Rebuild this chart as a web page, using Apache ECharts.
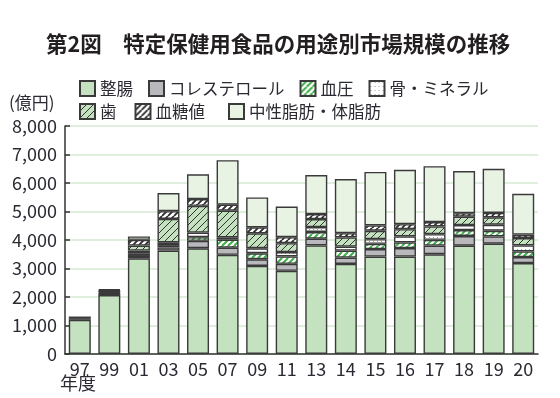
<!DOCTYPE html>
<html>
<head>
<meta charset="utf-8">
<script src="https://cdn.jsdelivr.net/npm/echarts@6/dist/echarts.min.js"></script>
<style>
  html, body { margin: 0; padding: 0; background: #fff; }
  #chart { width: 560px; height: 398px; }
</style>
</head>
<body>
<div id="chart"></div>
<script>
// 年度
const years = ["97", "99", "01", "03", "05", "07", "09", "11", "13", "14", "15", "16", "17", "18", "19", "20"];
const yTicks = [0, 1000, 2000, 3000, 4000, 5000, 6000, 7000, 8000];

// 用途別市場規模（億円）
const seichou = [1200, 2070, 3360, 3630, 3710, 3480, 3090, 2920, 3810, 3160, 3420, 3420, 3500, 3800, 3870, 3190];
const cholesterol = [0, 20, 80, 110, 260, 250, 235, 245, 235, 225, 260, 295, 305, 340, 255, 210];
const ketsuatsu = [0, 50, 95, 80, 130, 280, 210, 260, 235, 245, 185, 200, 200, 210, 200, 200];
const hone = [50, 30, 95, 100, 160, 80, 175, 150, 175, 140, 165, 210, 200, 175, 210, 210];
const ha = [15, 50, 175, 820, 940, 940, 525, 315, 280, 320, 295, 255, 270, 295, 260, 260];
const kettouchi = [0, 20, 200, 270, 235, 210, 210, 210, 175, 150, 185, 175, 155, 120, 155, 120];
const chuusei = [50, 30, 120, 640, 870, 1560, 1050, 1075, 1370, 1900, 1880, 1910, 1960, 1480, 1550, 1430];

const FONT = '"Noto Sans CJK JP", "Noto Sans", sans-serif';
const TEXT = "#2a2a33";
const EDGE = "#3a3a3a";

function hatch(bg, line, width, gap) {
  const c = document.createElement("canvas");
  c.width = gap;
  c.height = gap;
  const g = c.getContext("2d");
  g.fillStyle = bg;
  g.fillRect(0, 0, gap, gap);
  g.strokeStyle = line;
  g.lineWidth = width;
  g.beginPath();
  // "/" 方向の斜線（タイル境界でつながるように3本）
  for (let k = -1; k <= 1; k++) {
    g.moveTo(k * gap, gap);
    g.lineTo(k * gap + gap, 0);
  }
  g.stroke();
  return { image: c, repeat: "repeat" };
}

function dots() {
  const c = document.createElement("canvas");
  c.width = 4;
  c.height = 4;
  const g = c.getContext("2d");
  g.fillStyle = "#ffffff";
  g.fillRect(0, 0, 4, 4);
  g.fillStyle = "#9a9a9a";
  g.fillRect(1, 1, 1, 1);
  return { image: c, repeat: "repeat" };
}

const seriesDefs = [
  { name: "整腸", data: seichou, color: "#c4e2bf" },
  { name: "コレステロール", data: cholesterol, color: "#b9b9bd" },
  { name: "血圧", data: ketsuatsu, color: hatch("#ffffff", "#3fae49", 2, 6) },
  { name: "骨・ミネラル", data: hone, color: dots() },
  { name: "歯", data: ha, color: hatch("#c4e2bf", "#333333", 1, 7) },
  { name: "血糖値", data: kettouchi, color: hatch("#ffffff", "#2a2a2a", 1.8, 6) },
  { name: "中性脂肪・体脂肪", data: chuusei, color: "#e8f3e4" },
];

const chart = echarts.init(document.getElementById("chart"));

const legendBase = {
  orient: "horizontal",
  icon: "rect",
  itemWidth: 15,
  itemHeight: 15,
  itemGap: 15,
  textStyle: { fontFamily: FONT, fontSize: 16.5, color: TEXT },
  padding: 0,
};

const option = {
  animation: false,
  textStyle: { fontFamily: FONT },
  title: {
    text: "第2図　特定保健用食品の用途別市場規模の推移",
    left: 46,
    top: 33,
    padding: 0,
    textStyle: { fontFamily: FONT, fontSize: 21.5, fontWeight: "bold", color: "#231f20" },
  },
  legend: [
    Object.assign({}, legendBase, { left: 79, top: 80, data: ["整腸", "コレステロール", "血圧", "骨・ミネラル"] }),
    Object.assign({}, legendBase, { left: 79, top: 103, itemGap: 18, data: ["歯", "血糖値"] }),
    Object.assign({}, legendBase, { left: 228, top: 103, data: ["中性脂肪・体脂肪"] }),
  ],
  graphic: [
    {
      type: "text",
      left: 9,
      top: 94,
      style: { text: "(億円)", font: "17px " + FONT, fill: TEXT },
    },
    {
      type: "text",
      left: 60,
      top: 374,
      style: { text: "年度", font: "18px " + FONT, fill: TEXT },
    },
  ],
  grid: { left: 65, right: 22, top: 126, bottom: 44 },
  xAxis: {
    type: "category",
    data: years,
    axisLine: { lineStyle: { color: "#333", width: 1.5 } },
    axisTick: { show: false },
    axisLabel: { color: TEXT, fontSize: 18, fontFamily: FONT, margin: 6 },
  },
  yAxis: {
    type: "value",
    min: yTicks[0],
    max: yTicks[yTicks.length - 1],
    interval: 1000,
    axisLine: { show: true, lineStyle: { color: "#333", width: 1.5 } },
    axisTick: { show: true, inside: true, length: 5, lineStyle: { color: "#333", width: 1.5 } },
    axisLabel: { color: TEXT, fontSize: 18, fontFamily: FONT, margin: 8 },
    splitLine: { lineStyle: { color: "#d6ead2", width: 1.5 } },
  },
  series: seriesDefs.map((s) => ({
    name: s.name,
    type: "bar",
    stack: "total",
    barWidth: 22,
    // 値が0の区分は描かない（枠線だけが残らないように）
    data: s.data.map((v) => (v === 0 ? "-" : v)),
    itemStyle: { color: s.color, borderColor: EDGE, borderWidth: 1.4 },
  })),
};

chart.setOption(option);
</script>
</body>
</html>
